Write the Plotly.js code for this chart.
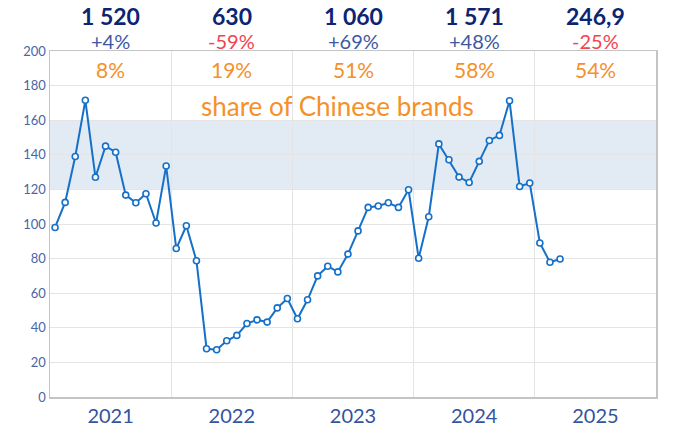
<!DOCTYPE html>
<html>
<head>
<meta charset="utf-8">
<script src="https://cdn.plot.ly/plotly-3.0.1.min.js"></script>
<style>html,body{margin:0;padding:0;background:#fff;}#chart{width:673px;height:431px;}</style>
</head>
<body>
<div id="chart"></div>
<script>
const years = ["2021", "2022", "2023", "2024", "2025"];
const totals = ["1 520", "630", "1 060", "1 571", "246,9"];
const changes = ["+4%", "-59%", "+69%", "+48%", "-25%"];
const shares = ["8%", "19%", "51%", "58%", "54%"];
const monthly = [
  98, 112.5, 139, 171.5, 127, 145, 141.5, 116.7, 112.3, 117.5, 100.6, 133.5,
  85.8, 99, 78.8, 27.9, 27.3, 32.5, 35.6, 42.5, 44.6, 43.3, 51.5, 56.9,
  45.2, 56.2, 70, 75.6, 72.3, 82.6, 96, 109.6, 110.4, 112.3, 109.6, 119.8,
  80.2, 104.2, 146.3, 137.1, 127.1, 124, 136.2, 148.3, 151.2, 171.2, 121.7, 123.7,
  89, 77.9, 79.8
];
const bandLow = 120, bandHigh = 160;

const monthIdx = monthly.map((_, i) => i);
const yearCenters = years.map((_, i) => i * 12 + 5.5);

const font = "Lato, 'Open Sans', sans-serif";
const annotations = [];
years.forEach((y, i) => {
  annotations.push({x: yearCenters[i], y: 1, xref: 'x', yref: 'paper', yanchor: 'middle', yshift: 35, text: '<b>' + totals[i] + '</b>',
    showarrow: false, font: {family: font, size: 23, color: '#0b2473'}});
  annotations.push({x: yearCenters[i], y: 1, xref: 'x', yref: 'paper', yanchor: 'middle', yshift: 10, text: changes[i],
    showarrow: false, font: {family: font, size: 20, color: changes[i].startsWith('-') ? '#f2434f' : '#3d5aa3'}});
  annotations.push({x: yearCenters[i], y: 1, xref: 'x', yref: 'paper', yanchor: 'middle', yshift: -18, text: shares[i],
    showarrow: false, font: {family: font, size: 21, color: '#f5902a'}});
});
annotations.push({x: 28, y: 168, xref: 'x', yref: 'y', yanchor: 'middle', text: 'share of Chinese brands', showarrow: false,
  font: {family: font, size: 26, color: '#f5902a'}});

const trace = {
  x: monthIdx, y: monthly, type: 'scatter', mode: 'lines+markers',
  line: {color: '#1570c8', width: 2},
  marker: {symbol: 'circle', size: 6, color: '#ffffff', line: {color: '#1570c8', width: 1.6}},
  hoverinfo: 'skip', cliponaxis: false
};

const layout = {
  width: 673, height: 431,
  margin: {l: 50, r: 17, t: 51, b: 34},
  paper_bgcolor: '#ffffff', plot_bgcolor: '#ffffff',
  showlegend: false,
  xaxis: {
    range: [-0.5, 59.5], tickvals: yearCenters, ticktext: years, ticks: '',
    showgrid: false, zeroline: false,
    showline: true, linecolor: '#c4c4c4', linewidth: 1.5, mirror: true,
    tickfont: {family: font, size: 20, color: '#34539f'},
    minor: {tick0: -0.5, dtick: 12, showgrid: true, gridcolor: '#e4e4e4', gridwidth: 1, ticks: ''}
  },
  yaxis: {
    range: [0, 200], dtick: 20, tick0: 0, ticks: '',
    showgrid: true, gridcolor: '#e4e4e4', gridwidth: 1, zeroline: false,
    showline: true, linecolor: '#c4c4c4', linewidth: 1.5, mirror: true,
    tickfont: {family: font, size: 13, color: '#4a64a8'}
  },
  shapes: [{type: 'rect', xref: 'paper', x0: 0, x1: 1, yref: 'y', y0: bandLow, y1: bandHigh,
    fillcolor: '#e2eaf4', line: {width: 0}, layer: 'below'}],
  annotations: annotations
};

Plotly.newPlot('chart', [trace], layout, {staticPlot: true, displayModeBar: false});
</script>
</body>
</html>
